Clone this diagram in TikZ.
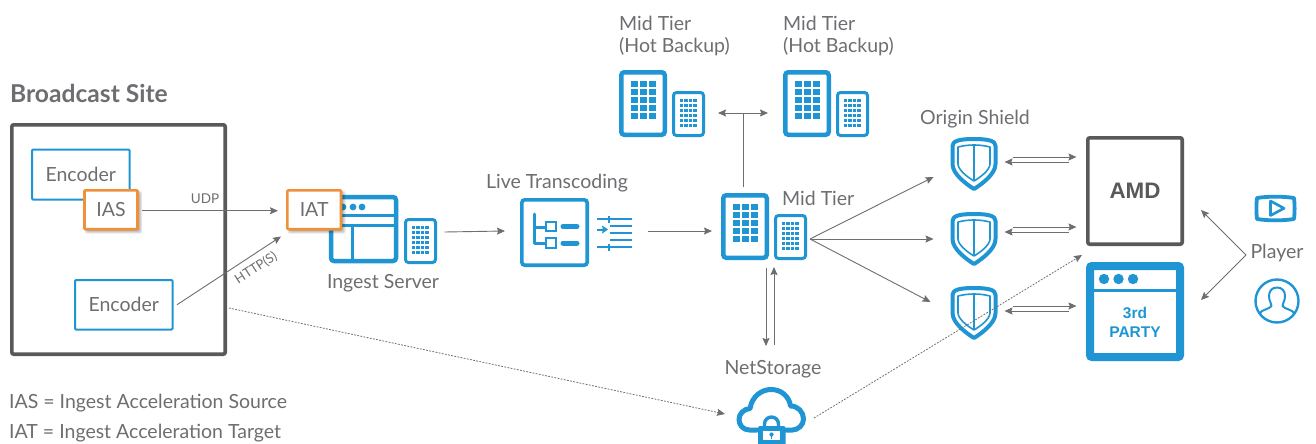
\documentclass[tikz,border=0pt]{standalone}
\usepackage{fontspec}
\setmainfont{Lato}
\newfontfamily\amdfont{Liberation Sans}
\usetikzlibrary{arrows.meta,calc}
\definecolor{ib}{HTML}{1F96D3}
\definecolor{dg}{HTML}{58595B}
\definecolor{lg}{HTML}{6D6E71}
\definecolor{og}{HTML}{F0913A}
\tikzset{
  lab/.style={text=lg,font=\fontsize{19.5}{22}\selectfont,inner sep=0pt},
  conn/.style={draw=lg,line width=.9pt,-{Stealth[length=8pt,width=7pt,inset=1.2pt]}},
  dbl/.style={draw=lg,line width=.9pt,{Stealth[length=8pt,width=7pt,inset=1.2pt]}-{Stealth[length=8pt,width=7pt,inset=1.2pt]}},
  dott/.style={draw=lg,line width=.8pt,dash pattern=on 1.8pt off 1.4pt},
  ebox/.style={draw=ib,line width=2pt,fill=white,rounded corners=1pt,inner sep=0pt,text=lg,font=\fontsize{19.5}{22}\selectfont},
  obox/.style={draw=og,line width=2.6pt,fill=white,rounded corners=1pt,inner sep=0pt,text=lg,font=\fontsize{19.5}{22}\selectfont},
  icon/.style={draw=ib,fill=white,rounded corners=3pt,inner sep=0pt},
  ghost/.style={inner sep=0pt,outer sep=0pt},
}
% name x1 y1 x2 y2 text: x,y in reference pixels, box given by its stroke's centre line
\newcommand\Bx[7][]{%
  \pgfmathsetmacro\cxx{(#3+#5)/2}\pgfmathsetmacro\cyy{(#4+#6)/2}%
  \pgfmathsetmacro\wdd{#5-#3}\pgfmathsetmacro\htt{#6-#4}%
  \node[#1,minimum width=\wdd pt,minimum height=\htt pt,align=center] (#2) at (\cxx,\cyy) {#7};}
% soft shadow under an orange box
\newcommand\Shd[4]{%
  \foreach \d in {-1,0,1,2}
    \fill[black,opacity=.09,rounded corners=2pt] ({#1+2.5-\d},{#2+2.5-\d}) rectangle ({#3+2.5+\d},{#4+2.5+\d});}
\newcommand\BigSrv[3]{%
  \pgfmathsetmacro\xa{#2+2.25}\pgfmathsetmacro\ya{#3+2.25}\pgfmathsetmacro\xb{#2+45.75}\pgfmathsetmacro\yb{#3+64.75}%
  \Bx[icon,line width=4.5pt]{#1}{\xa}{\ya}{\xb}{\yb}{}%
  \foreach \i in {0,1,2}\foreach \j in {0,...,4}
    \fill[ib] ({#2+11.5+9*\i},{#3+11+8.1*\j}) rectangle +(7,5.6);}
\newcommand\SmSrv[3]{%
  \pgfmathsetmacro\xa{#2+1.5}\pgfmathsetmacro\ya{#3+1.5}\pgfmathsetmacro\xb{#2+31.5}\pgfmathsetmacro\yb{#3+44.5}%
  \Bx[icon,line width=3pt]{#1}{\xa}{\ya}{\xb}{\yb}{}%
  \foreach \i in {0,1,2,3}\foreach \j in {0,...,5}
    \fill[ib] ({#2+7.6+4.6*\i},{#3+7.6+5*\j}) rectangle +(3.4,3.5);}
% shield: name, centre x, top y
\newcommand\Shield[3]{%
  \node[ghost,minimum width=47pt,minimum height=54pt] (#1) at (#2,#3+27) {};
  \begin{scope}[shift={(#2,#3)}]
    \draw[ib,line width=4pt,line join=round,fill=white] (-21.5,9) .. controls (-21.5,4) and (-15,2) .. (0,2)
      .. controls (15,2) and (21.5,4) .. (21.5,9) -- (21.5,27) .. controls (21.5,37) and (8,47) .. (0,52)
      .. controls (-8,47) and (-21.5,37) .. (-21.5,27) -- cycle;
    \draw[ib,line width=1.6pt,line join=round] (-16,10) .. controls (-10,8.5) and (-5,8) .. (0,8)
      .. controls (5,8) and (10,8.5) .. (16,10) -- (16,27) .. controls (16,33) and (6,40.5) .. (0,44)
      .. controls (-6,40.5) and (-16,33) .. (-16,27) -- cycle;
    \draw[ib,line width=1.6pt] (0,8) -- (0,44);
  \end{scope}}
\begin{document}
\begin{tikzpicture}[x=1pt,y=-1pt]
\useasboundingbox (0,0) rectangle (1316,444);
\fill[white] (0,0) rectangle (1316,444);

% ---- legend and heading
\node[anchor=west,text=lg,inner sep=0pt,font=\bfseries\fontsize{24.6}{26}\selectfont] (bs) at (10,93) {Broadcast Site};
\node[lab,anchor=west] (leg1) at (9,403) {IAS = Ingest Acceleration Source};
\node[lab,anchor=west] (leg2) at (9,433) {IAT = Ingest Acceleration Target};

% ---- broadcast site
\Bx[draw=dg,line width=3.6pt,rounded corners=2pt,inner sep=0pt]{site}{11.8}{124.8}{225.2}{354.2}{}
\Bx[ebox]{enc1}{32}{149.5}{129.5}{199.5}{Encoder}
\Bx[ebox]{enc2}{75}{280}{172.5}{329.5}{Encoder}
\Shd{84.5}{190.3}{137.5}{229.2}
\Bx[obox]{ias}{84.5}{190.3}{137.5}{229.2}{IAS}

% ---- ingest
\Bx[icon,line width=4.5pt]{win}{331}{197}{396}{261}{}
\draw[ib,line width=3pt] (win.west |- 0,215) -- (win.east |- 0,215);
\draw[ib,line width=3pt] (win.west |- 0,225) -- (win.east |- 0,225);
\draw[ib,line width=3pt] (352,225) -- (352,261);
\foreach \q in {343,353,362} \fill[ib] (\q,207) circle (3.4);
\SmSrv{ing}{404}{218}
\Shd{287.3}{190.3}{341}{229.2}
\Bx[obox]{iat}{287.3}{190.3}{341}{229.2}{IAT}
\node[lab] (ingl) at (383,283) {Ingest Server};

% ---- transcoding
\node[lab] (ltl) at (557,183) {Live Transcoding};
\Bx[icon,line width=3.6pt]{tr}{521.8}{199.8}{587.2}{265.2}{}
\draw[ib,line width=3pt,line cap=round,line join=round] (534,214) -- (534,243) -- (546,243);
\draw[ib,line width=3pt] (534,227) -- (546,227);
\draw[ib,line width=2.6pt,fill=white] (546,222) rectangle (556,231);
\draw[ib,line width=2.6pt,fill=white] (546,238) rectangle (556,248);
\draw[ib,line width=5pt,line cap=round] (563,226.5) -- (577,226.5);
\draw[ib,line width=5pt,line cap=round] (563,243) -- (577,243);
\node[ghost,minimum width=36pt,minimum height=36pt] (trq) at (614.5,233) {};
\draw[ib,line width=1.4pt] (597,219) -- (632,219) (597,247) -- (632,247) (609,215.5) -- (609,222.5) (609,243.5) -- (609,251);
\draw[ib,line width=2.6pt] (610,226) -- (632,226) (610,233) -- (632,233) (610,240) -- (632,240);
\draw[ib,line width=2pt,-{Stealth[length=6pt,width=8pt,inset=1pt]}] (597,229.5) -- (608,229.5);

% ---- mid tiers
\BigSrv{hb1}{619}{70}\SmSrv{hb1s}{672}{91}
\BigSrv{hb2}{783}{70}\SmSrv{hb2s}{836}{91}
\BigSrv{mt}{721}{193}\SmSrv{mts}{774}{214}
\node[lab,anchor=west] (hb1a) at (619,23) {Mid Tier};
\node[lab,anchor=west] (hb1b) at (619,46.5) {(Hot Backup)};
\node[lab,anchor=west] (hb2a) at (783,23) {Mid Tier};
\node[lab,anchor=west] (hb2b) at (783,46.5) {(Hot Backup)};
\node[lab,anchor=west] (mtl) at (782,198) {Mid Tier};

% ---- shields
\node[lab] (osl) at (975,119) {Origin Shield};
\Shield{sh1}{974}{137}
\Shield{sh2}{974}{212}
\Shield{sh3}{974}{286}

% ---- AMD / 3rd party
\Bx[draw=dg,line width=3.6pt,rounded corners=2pt,inner sep=0pt,text=dg,font=\amdfont\bfseries\fontsize{22.4}{24}\selectfont]{amd}{1087.8}{137.8}{1182.2}{244.2}{AMD}
\Bx[draw=ib,line width=8pt,rounded corners=2pt,inner sep=0pt]{tp}{1090}{266}{1180}{357}{}
\draw[ib,line width=2.6pt] (tp.west |- 0,290.5) -- (tp.east |- 0,290.5);
\foreach \q in {1104,1118.5,1133} \fill[ib] (\q,279) circle (5.2);
\node[text=ib,inner sep=0pt,align=center,font=\amdfont\bfseries\fontsize{15.5}{19}\selectfont] (tpl) at (1135,322.5) {3rd\\PARTY};

% ---- player
\node[lab] (pl) at (1277,253) {Player};
\node[ghost,minimum width=41pt,minimum height=29pt] (play) at (1275.5,208.5) {};
\draw[ib,line width=3.8pt,line join=round] (1257,198) .. controls (1268,196.2) and (1283,196.2) .. (1294,198)
  .. controls (1294.8,204) and (1294.8,213) .. (1294,219) .. controls (1283,220.8) and (1268,220.8) .. (1257,219)
  .. controls (1256.2,213) and (1256.2,204) .. (1257,198) -- cycle;
\draw[ib,line width=2.6pt,line join=round] (1270.5,201) -- (1284,208.3) -- (1270.5,215.5) -- cycle;
\node[draw=ib,line width=2.4pt,circle,inner sep=0pt,minimum size=43pt] (usr) at (1277,301) {};
\begin{scope}
  \clip (usr.center) circle (21);
  \draw[ib,line width=2pt,line join=round] (1260,320) -- (1260,313.5) .. controls (1260,310) and (1270,309) .. (1271.5,306)
    .. controls (1272,303.5) and (1269,302) .. (1269,296) .. controls (1269,291) and (1272,287.5) .. (1277,287.5)
    .. controls (1282,287.5) and (1285,291) .. (1285,296) .. controls (1285,302) and (1282,303.5) .. (1282.5,306)
    .. controls (1284,309) and (1294,310) .. (1294,313.5) -- (1294,320);
\end{scope}

% ---- NetStorage
\node[lab] (nsl) at (773,369) {NetStorage};
\node[ghost,minimum width=68pt,minimum height=57pt] (cloud) at (771,415.5) {};
\draw[ib,line width=5pt,line cap=round,line join=round] (757,430) -- (749.5,430)
  .. controls (743,430) and (739,425) .. (739,419.5) .. controls (739,413.5) and (744,409) .. (750,408.5)
  .. controls (752,396) and (762,389.5) .. (771,389.5) .. controls (781,389.5) and (789,396) .. (790.5,406)
  .. controls (798,406) and (803.5,412) .. (803.5,419) .. controls (803.5,425) and (798,430) .. (792.5,430) -- (786,430);
\draw[ib,line width=3.4pt] (764.5,428) -- (764.5,424) arc[start angle=180,end angle=360,radius=7] -- (778.5,428);
\fill[ib,rounded corners=2pt] (758,426) rectangle (785.5,446);
\fill[white] (763,431) rectangle (780,439.5);
\fill[ib] (771.5,434.5) circle (2.1);
\fill[ib] (770.7,434.5) rectangle (772.3,438.5);

% ---- connectors
\draw[conn] ($(ias.east)+(3,1)$) -- ($(iat.west)+(-8,1)$);
\node[text=lg,inner sep=0pt,font=\fontsize{13.5}{15}\selectfont] (udp) at (205,199) {UDP};
\draw[conn] ($(enc2.east)+(3.5,0)$) -- ($(iat.south west)+(-5,6)$);
\node[text=lg,inner sep=0pt,rotate=33,font=\fontsize{13}{15}\selectfont] (http) at (256,268) {HTTP(S)};
\draw[conn] ($(ing.east)+(7.5,-9)$) -- ($(tr.west)+(-15,-1.5)$);
\draw[conn] ($(trq.east)+(15.5,-2)$) -- ($(mt.west)+(-9,4.5)$);
\draw[dbl] ($(hb1s.east)+(13,-1)$) coordinate (hbl) -- ($(hb2.west)+(-15,9.5)$) coordinate (hbr);
\draw[draw=lg,line width=.9pt] ($(mt.north)+(-2,-6)$) -- (hbl -| 743,0);
\coordinate (fan) at ($(mts.east)+(3,2)$);
\draw[conn] (fan) -- ($(sh1.west)+(-17,13)$);
\draw[conn] (fan) -- ($(sh2.west)+(-17,0)$);
\draw[conn] (fan) -- ($(sh3.west)+(-20,-11)$);
\draw[conn] ($(sh1.east)+(15,-7)$) -- ($(sh1.east)+(79,-7)$);
\draw[conn] ($(sh1.east)+(71,-2)$) -- ($(sh1.east)+(7,-2)$);
\draw[conn] ($(sh2.east)+(15,-12)$) -- ($(sh2.east)+(79,-12)$);
\draw[conn] ($(sh2.east)+(71,-7)$) -- ($(sh2.east)+(7,-7)$);
\draw[conn] ($(sh3.east)+(15,-7)$) -- ($(sh3.east)+(79,-7)$);
\draw[conn] ($(sh3.east)+(71,-2)$) -- ($(sh3.east)+(7,-2)$);
\draw[conn] ($(mts.south)+(-24.5,8)$) -- ($(nsl.center)+(-7,-23)$);
\draw[conn] ($(nsl.center)+(1,-24)$) -- ($(mts.south)+(-16.5,7)$);
\coordinate (pv) at ($(pl.center)+(-31,2)$);
\draw[conn] (pv) -- ($(amd.east)+(17,19)$);
\draw[conn] (pv) -- ($(tp.east)+(17,-11.5)$);
\draw[dott,-{Stealth[length=8pt,width=7pt,inset=1.2pt]}] ($(site.east)+(2,68.5)$) -- ($(cloud.west)+(-12,-1.5)$);
\draw[dott,-{Stealth[length=8pt,width=7pt,inset=1.2pt]}] ($(cloud.east)+(9,2.5)$) -- ($(amd.south west)+(-4,9)$);
\end{tikzpicture}
\end{document}
